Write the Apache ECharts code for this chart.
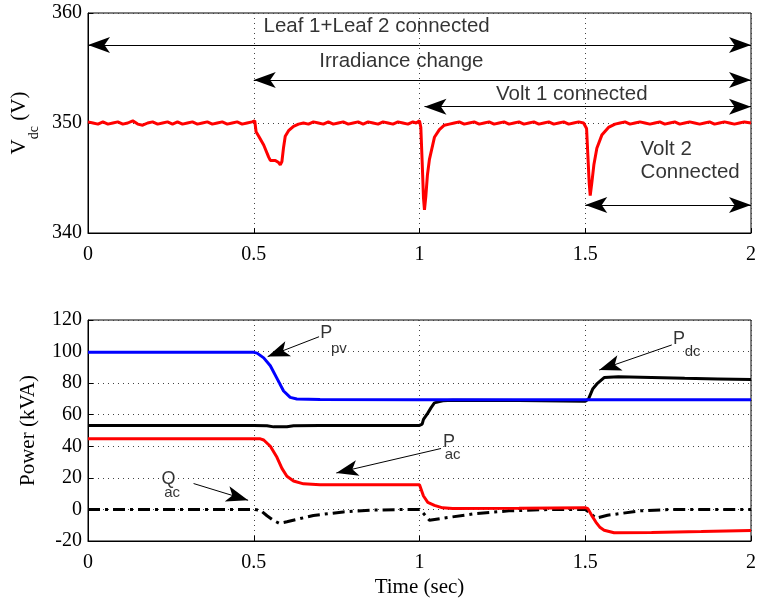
<!DOCTYPE html>
<html>
<head>
<meta charset="utf-8">
<script src="https://cdn.jsdelivr.net/npm/echarts@6/dist/echarts.min.js"></script>
<style>html,body{margin:0;padding:0;background:#fff}#c{width:759px;height:603px}</style>
</head>
<body>
<div id="c"></div>
<script>
// ---- data (time in sec) ----
const xTicks = [0, 0.5, 1, 1.5, 2];
const vdcTicks = [340, 350, 360];
const powerTicks = [-20, 0, 20, 40, 60, 80, 100, 120];

const vdc = [
[0,350.1],[0.015,350.0],[0.03,349.9],[0.045,350.1],[0.06,349.9],[0.075,350.0],[0.09,350.1],[0.105,349.9],[0.12,350.0],[0.135,350.2],
[0.15,349.9],[0.165,349.8],[0.18,350.0],[0.195,350.1],[0.21,349.9],[0.225,350.0],[0.24,350.1],[0.255,349.9],[0.27,350.1],[0.285,349.9],
[0.3,350.0],[0.315,350.1],[0.33,349.9],[0.345,350.0],[0.36,350.1],[0.375,349.9],[0.39,350.0],[0.405,350.1],[0.42,349.9],[0.435,350.0],
[0.45,350.1],[0.465,349.9],[0.48,350.0],[0.495,350.1],[0.503,350.2],[0.507,349.2],[0.515,348.8],[0.53,348.0],[0.545,346.9],[0.55,346.6],
[0.565,346.6],[0.575,346.4],[0.58,346.2],[0.585,346.5],[0.59,347.8],[0.595,348.8],[0.605,349.3],[0.62,349.7],[0.635,349.9],[0.65,350.0],
[0.665,349.9],[0.68,350.1],[0.695,350.0],[0.71,349.9],[0.725,350.1],[0.74,349.9],[0.755,350.0],[0.77,350.1],[0.785,349.9],[0.8,350.0],
[0.815,350.1],[0.83,349.9],[0.845,350.1],[0.86,350.0],[0.875,349.9],[0.89,350.1],[0.905,350.0],[0.92,349.9],[0.935,350.1],[0.95,350.0],
[0.965,349.9],[0.98,350.1],[0.99,350.0],[1.0,350.2],[1.004,349.6],[1.008,346.5],[1.012,343.2],[1.015,342.1],[1.019,343.3],[1.024,345.3],
[1.03,346.7],[1.045,348.7],[1.06,349.4],[1.075,349.8],[1.09,349.9],[1.105,350.0],[1.12,350.1],[1.135,349.9],[1.15,350.0],[1.165,350.1],
[1.18,349.9],[1.195,350.0],[1.21,350.1],[1.225,349.9],[1.24,350.0],[1.255,350.1],[1.27,349.9],[1.285,350.0],[1.3,350.1],[1.315,349.9],
[1.33,350.0],[1.345,350.1],[1.36,349.9],[1.375,350.0],[1.39,350.1],[1.405,349.9],[1.42,350.0],[1.435,350.1],[1.45,349.9],[1.465,350.0],
[1.48,350.1],[1.495,350.0],[1.5,350.1],[1.504,349.5],[1.508,347.0],[1.512,344.5],[1.515,343.4],[1.52,344.6],[1.526,346.2],[1.535,347.7],
[1.55,348.9],[1.57,349.6],[1.59,349.9],[1.605,350.0],[1.62,350.1],[1.635,349.9],[1.65,350.0],[1.665,350.1],[1.68,350.0],[1.695,349.9],
[1.71,350.0],[1.725,350.1],[1.74,349.9],[1.755,350.0],[1.77,350.1],[1.785,349.9],[1.8,350.0],[1.815,350.1],[1.83,350.0],[1.845,349.9],
[1.86,350.0],[1.875,350.1],[1.89,349.9],[1.905,350.0],[1.92,350.1],[1.935,350.0],[1.95,349.9],[1.965,350.0],[1.98,350.1],[2.0,350.0]
];

const ppv = [[0,99.5],[0.5,99.5],[0.51,99],[0.53,96],[0.55,91],[0.57,83],[0.59,75],[0.61,71],[0.63,70],[0.7,69.6],[1.0,69.5],[1.5,69.5],[2,69.5]];
const pdc = [[0,53.2],[0.5,53.2],[0.54,53],[0.56,52.3],[0.6,52.4],[0.62,53],[0.7,53.2],[1.0,53.2],[1.008,54],[1.012,57],[1.025,61],[1.035,64.5],
  [1.045,67.5],[1.07,68.8],[1.1,69.2],[1.3,69],[1.5,68.5],[1.51,70],[1.523,76.5],[1.535,79.5],[1.557,83.5],[1.6,84],[1.7,83.6],[1.8,83.1],[1.9,82.7],[2,82.3]];
const pac = [[0,44.7],[0.52,44.7],[0.53,44],[0.55,40],[0.57,33],[0.585,26],[0.6,21],[0.62,18],[0.65,16.2],[0.7,15.7],[1.0,15.6],[1.005,15.4],[1.012,8.5],
  [1.025,4.5],[1.045,2.6],[1.07,1],[1.1,0.6],[1.3,0.7],[1.5,1.1],[1.508,0.5],[1.52,-4],[1.532,-8],[1.545,-11.5],[1.557,-13.2],[1.587,-14.8],[1.7,-14.6],[1.85,-14],[2,-13.3]];
const qac = [[0,0],[0.5,0],[0.52,-0.5],[0.54,-4],[0.56,-7],[0.577,-8.8],[0.6,-7.8],[0.68,-3.8],[0.77,-1.6],[0.85,-0.5],[0.95,0],[1.0,0],[1.01,-2],
  [1.03,-6.9],[1.07,-5.6],[1.17,-2.6],[1.27,-0.9],[1.4,0],[1.5,0],[1.51,-1.5],[1.532,-5.6],[1.567,-3.7],[1.666,-0.9],[1.75,-0.1],[2,0]];

// ---- annotations (data coordinates) ----
const topTexts = [
  {t: 0.8707, v: 358.75, text: 'Leaf 1+Leaf 2 connected', align: 'center'},
  {t: 0.9454, v: 355.57, text: 'Irradiance change', align: 'center'},
  {t: 1.4594, v: 352.59, text: 'Volt 1 connected', align: 'center'},
  {t: 1.6669, v: 347.65, text: 'Volt 2', align: 'left'},
  {t: 1.6669, v: 345.53, text: 'Connected', align: 'left'}
];
const topArrows = [
  {from: [0, 357.09], to: [2, 357.09], both: true},
  {from: [0.5, 353.91], to: [2, 353.91], both: true},
  {from: [1.015, 351.48], to: [2, 351.48], both: true},
  {from: [1.5, 342.55], to: [2, 342.55], both: true}
];
const botTexts = [
  {t: 0.7185, v: 111.8, text: 'P', sub: false},
  {t: 0.757, v: 101.8, text: 'pv', sub: true},
  {t: 1.783, v: 107.7, text: 'P', sub: false},
  {t: 1.824, v: 99.9, text: 'dc', sub: true},
  {t: 1.0887, v: 42.8, text: 'P', sub: false},
  {t: 1.1, v: 34.3, text: 'ac', sub: true},
  {t: 0.2429, v: 19.3, text: 'Q', sub: false},
  {t: 0.2537, v: 10.3, text: 'ac', sub: true}
];
const botArrows = [
  {from: [0.697, 109.4], to: [0.542, 96.8], both: false},
  {from: [1.761, 104.2], to: [1.542, 88.3], both: false},
  {from: [1.065, 38.6], to: [0.749, 23.1], both: false},
  {from: [0.3185, 16.4], to: [0.483, 5.8], both: false}
];

const serif = 'Liberation Serif';
const sans = 'Liberation Sans';
const AW = 12, AH = 22;

function arrowData(list) {
  return list.map(a => [
    {coord: a.from, symbol: a.both ? 'arrow' : 'none', symbolSize: [AW, AH]},
    {coord: a.to, symbol: 'arrow', symbolSize: [AW, AH]}
  ]);
}
function textData(list, size, subSize) {
  return list.map(o => ({
    value: [o.t, o.v],
    label: {
      show: true, formatter: o.text, position: 'inside',
      align: o.align || 'center', verticalAlign: 'middle',
      fontFamily: sans, fontSize: o.sub ? subSize : size, color: '#000'
    }
  }));
}

const xAxisCommon = {
  type: 'value', min: 0, max: 2, interval: 0.5,
  axisLine: {show: true, onZero: false, lineStyle: {color: '#000', width: 1}},
  axisTick: {show: true, inside: true, length: 5, lineStyle: {color: '#000'}},
  axisLabel: {color: '#000', fontFamily: serif, fontSize: 20, margin: 12,
    formatter: v => xTicks.includes(v) ? String(v) : ''},
  splitLine: {show: true, lineStyle: {color: '#444', width: 1, type: [1, 4]}}
};

const chart = echarts.init(document.getElementById('c'), null, {renderer: 'canvas'});
chart.setOption({
  animation: false,
  backgroundColor: '#fff',
  grid: [
    {left: 88, top: 13, width: 670, height: 220, show: true, borderColor: '#000', borderWidth: 1, backgroundColor: 'transparent'},
    {left: 88, top: 320, width: 670, height: 221, show: true, borderColor: '#000', borderWidth: 1, backgroundColor: 'transparent'}
  ],
  xAxis: [
    Object.assign({gridIndex: 0}, xAxisCommon),
    Object.assign({gridIndex: 1, name: 'Time (sec)', nameLocation: 'middle', nameGap: 36,
      nameTextStyle: {color: '#000', fontFamily: serif, fontSize: 21}}, xAxisCommon)
  ],
  yAxis: [
    {gridIndex: 0, type: 'value', min: vdcTicks[0], max: vdcTicks[vdcTicks.length - 1], interval: 10,
      name: '{v|V}{s|dc}{v| (V)}', nameLocation: 'middle', nameRotate: 90, nameGap: 55,
      nameTextStyle: {rich: {
        v: {fontFamily: serif, fontSize: 21, color: '#000', lineHeight: 24, verticalAlign: 'top'},
        s: {fontFamily: serif, fontSize: 14, color: '#000', lineHeight: 14, padding: [18, 0, 0, 0], verticalAlign: 'top'}
      }},
      axisLine: {show: true, lineStyle: {color: '#000'}},
      axisTick: {show: true, inside: true, length: 5, lineStyle: {color: '#000'}},
      axisLabel: {color: '#000', fontFamily: serif, fontSize: 20, margin: 6},
      splitLine: {show: true, lineStyle: {color: '#444', width: 1, type: [1, 4]}}
    },
    {gridIndex: 1, type: 'value', min: powerTicks[0], max: powerTicks[powerTicks.length - 1], interval: 20,
      name: 'Power (kVA)', nameLocation: 'middle', nameRotate: 90, nameGap: 49,
      nameTextStyle: {color: '#000', fontFamily: serif, fontSize: 21},
      axisLine: {show: true, lineStyle: {color: '#000'}},
      axisTick: {show: true, inside: true, length: 5, lineStyle: {color: '#000'}},
      axisLabel: {color: '#000', fontFamily: serif, fontSize: 20, margin: 6},
      splitLine: {show: true, lineStyle: {color: '#444', width: 1, type: [1, 4]}}
    }
  ],
  series: [
    {type: 'line', xAxisIndex: 0, yAxisIndex: 0, data: vdc, showSymbol: false, symbol: 'none',
      lineStyle: {color: '#ff0000', width: 3}},
    {type: 'line', xAxisIndex: 1, yAxisIndex: 1, data: qac, showSymbol: false, symbol: 'none',
      lineStyle: {color: '#000', width: 3, type: [12, 5, 3, 5]}},
    {type: 'line', xAxisIndex: 1, yAxisIndex: 1, data: pdc, showSymbol: false, symbol: 'none',
      lineStyle: {color: '#000', width: 3}},
    {type: 'line', xAxisIndex: 1, yAxisIndex: 1, data: ppv, showSymbol: false, symbol: 'none',
      lineStyle: {color: '#0000ff', width: 3}},
    {type: 'line', xAxisIndex: 1, yAxisIndex: 1, data: pac, showSymbol: false, symbol: 'none',
      lineStyle: {color: '#ff0000', width: 3}},
    {type: 'scatter', xAxisIndex: 0, yAxisIndex: 0, symbolSize: 1, itemStyle: {color: 'rgba(0,0,0,0)'},
      silent: true, data: textData(topTexts, 20.5, 20.5), z: 5,
      markLine: {silent: true, animation: false, label: {show: false},
        lineStyle: {color: '#000', width: 1, type: 'solid'}, emphasis: {disabled: true},
        itemStyle: {color: '#000'}, data: arrowData(topArrows)}},
    {type: 'scatter', xAxisIndex: 1, yAxisIndex: 1, symbolSize: 1, itemStyle: {color: 'rgba(0,0,0,0)'},
      silent: true, data: textData(botTexts, 18, 15), z: 5,
      markLine: {silent: true, animation: false, label: {show: false},
        lineStyle: {color: '#000', width: 1, type: 'solid'}, emphasis: {disabled: true},
        itemStyle: {color: '#000'}, data: arrowData(botArrows)}}
  ]
});
</script>
</body>
</html>
